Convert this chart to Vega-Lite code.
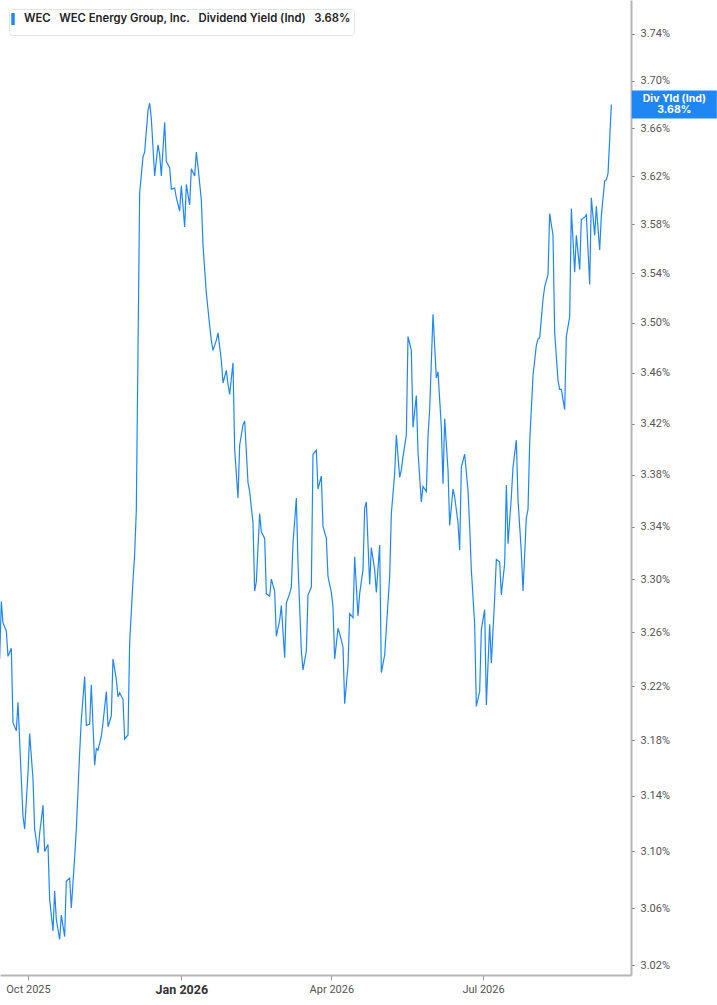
{
  "$schema": "https://vega.github.io/schema/vega-lite/v6.json",
  "width": 631,
  "height": 975,
  "autosize": {"type": "none"},
  "padding": {"left": 0, "top": 0, "right": 86, "bottom": 30},
  "background": "white",
  "config": {
    "view": {"stroke": null},
    "font": "Inter",
    "axis": {"grid": false}
  },
  "data": {
    "format": {"parse": {"date": "utc:'%Y-%m-%d'"}},
    "values": [
      {"date": "2025-09-14", "yield": 3.240}, {"date": "2025-09-15", "yield": 3.283}, {"date": "2025-09-16", "yield": 3.267},
      {"date": "2025-09-18", "yield": 3.261}, {"date": "2025-09-19", "yield": 3.242}, {"date": "2025-09-21", "yield": 3.248},
      {"date": "2025-09-22", "yield": 3.193}, {"date": "2025-09-24", "yield": 3.187}, {"date": "2025-09-25", "yield": 3.208},
      {"date": "2025-09-27", "yield": 3.152}, {"date": "2025-09-28", "yield": 3.125}, {"date": "2025-09-29", "yield": 3.116},
      {"date": "2025-10-01", "yield": 3.156}, {"date": "2025-10-02", "yield": 3.185}, {"date": "2025-10-04", "yield": 3.152},
      {"date": "2025-10-05", "yield": 3.116}, {"date": "2025-10-07", "yield": 3.099}, {"date": "2025-10-08", "yield": 3.113},
      {"date": "2025-10-10", "yield": 3.133}, {"date": "2025-10-11", "yield": 3.100}, {"date": "2025-10-13", "yield": 3.105},
      {"date": "2025-10-14", "yield": 3.066}, {"date": "2025-10-16", "yield": 3.044}, {"date": "2025-10-17", "yield": 3.072},
      {"date": "2025-10-18", "yield": 3.052}, {"date": "2025-10-20", "yield": 3.038}, {"date": "2025-10-21", "yield": 3.055},
      {"date": "2025-10-23", "yield": 3.040}, {"date": "2025-10-24", "yield": 3.079}, {"date": "2025-10-26", "yield": 3.081},
      {"date": "2025-10-27", "yield": 3.060}, {"date": "2025-10-29", "yield": 3.096}, {"date": "2025-10-30", "yield": 3.116},
      {"date": "2025-11-01", "yield": 3.171}, {"date": "2025-11-02", "yield": 3.195}, {"date": "2025-11-04", "yield": 3.227},
      {"date": "2025-11-05", "yield": 3.191}, {"date": "2025-11-07", "yield": 3.192}, {"date": "2025-11-08", "yield": 3.221},
      {"date": "2025-11-10", "yield": 3.162}, {"date": "2025-11-11", "yield": 3.174}, {"date": "2025-11-12", "yield": 3.173},
      {"date": "2025-11-14", "yield": 3.183}, {"date": "2025-11-15", "yield": 3.193}, {"date": "2025-11-17", "yield": 3.216},
      {"date": "2025-11-18", "yield": 3.190}, {"date": "2025-11-20", "yield": 3.198}, {"date": "2025-11-21", "yield": 3.240},
      {"date": "2025-11-23", "yield": 3.225}, {"date": "2025-11-24", "yield": 3.212}, {"date": "2025-11-25", "yield": 3.215},
      {"date": "2025-11-27", "yield": 3.210}, {"date": "2025-11-28", "yield": 3.181}, {"date": "2025-11-30", "yield": 3.184},
      {"date": "2025-12-01", "yield": 3.252}, {"date": "2025-12-03", "yield": 3.299}, {"date": "2025-12-04", "yield": 3.319},
      {"date": "2025-12-05", "yield": 3.353}, {"date": "2025-12-07", "yield": 3.606}, {"date": "2025-12-09", "yield": 3.636},
      {"date": "2025-12-10", "yield": 3.640}, {"date": "2025-12-12", "yield": 3.675}, {"date": "2025-12-13", "yield": 3.681},
      {"date": "2025-12-14", "yield": 3.668}, {"date": "2025-12-16", "yield": 3.620}, {"date": "2025-12-18", "yield": 3.646},
      {"date": "2025-12-19", "yield": 3.638}, {"date": "2025-12-20", "yield": 3.620}, {"date": "2025-12-22", "yield": 3.665},
      {"date": "2025-12-23", "yield": 3.632}, {"date": "2025-12-25", "yield": 3.627}, {"date": "2025-12-26", "yield": 3.609},
      {"date": "2025-12-28", "yield": 3.610}, {"date": "2025-12-29", "yield": 3.602}, {"date": "2025-12-31", "yield": 3.591},
      {"date": "2026-01-01", "yield": 3.612}, {"date": "2026-01-03", "yield": 3.578}, {"date": "2026-01-04", "yield": 3.613},
      {"date": "2026-01-06", "yield": 3.596}, {"date": "2026-01-07", "yield": 3.626}, {"date": "2026-01-09", "yield": 3.620},
      {"date": "2026-01-10", "yield": 3.640}, {"date": "2026-01-11", "yield": 3.628}, {"date": "2026-01-13", "yield": 3.600},
      {"date": "2026-01-14", "yield": 3.563}, {"date": "2026-01-16", "yield": 3.524}, {"date": "2026-01-17", "yield": 3.511},
      {"date": "2026-01-18", "yield": 3.498}, {"date": "2026-01-19", "yield": 3.486}, {"date": "2026-01-20", "yield": 3.478},
      {"date": "2026-01-22", "yield": 3.486}, {"date": "2026-01-23", "yield": 3.492}, {"date": "2026-01-25", "yield": 3.470},
      {"date": "2026-01-26", "yield": 3.452}, {"date": "2026-01-28", "yield": 3.462}, {"date": "2026-01-29", "yield": 3.451},
      {"date": "2026-01-30", "yield": 3.443}, {"date": "2026-02-01", "yield": 3.468}, {"date": "2026-02-02", "yield": 3.400},
      {"date": "2026-02-04", "yield": 3.362}, {"date": "2026-02-05", "yield": 3.403}, {"date": "2026-02-07", "yield": 3.419},
      {"date": "2026-02-08", "yield": 3.422}, {"date": "2026-02-10", "yield": 3.374}, {"date": "2026-02-11", "yield": 3.367},
      {"date": "2026-02-13", "yield": 3.343}, {"date": "2026-02-14", "yield": 3.291}, {"date": "2026-02-15", "yield": 3.298},
      {"date": "2026-02-17", "yield": 3.350}, {"date": "2026-02-18", "yield": 3.336}, {"date": "2026-02-20", "yield": 3.331},
      {"date": "2026-02-21", "yield": 3.289}, {"date": "2026-02-23", "yield": 3.287}, {"date": "2026-02-24", "yield": 3.300},
      {"date": "2026-02-26", "yield": 3.291}, {"date": "2026-02-27", "yield": 3.257}, {"date": "2026-03-01", "yield": 3.269},
      {"date": "2026-03-02", "yield": 3.280}, {"date": "2026-03-04", "yield": 3.241}, {"date": "2026-03-05", "yield": 3.282},
      {"date": "2026-03-07", "yield": 3.289}, {"date": "2026-03-08", "yield": 3.294}, {"date": "2026-03-09", "yield": 3.327},
      {"date": "2026-03-11", "yield": 3.362}, {"date": "2026-03-12", "yield": 3.312}, {"date": "2026-03-14", "yield": 3.246},
      {"date": "2026-03-15", "yield": 3.232}, {"date": "2026-03-17", "yield": 3.246}, {"date": "2026-03-18", "yield": 3.288},
      {"date": "2026-03-20", "yield": 3.294}, {"date": "2026-03-21", "yield": 3.396}, {"date": "2026-03-23", "yield": 3.399},
      {"date": "2026-03-24", "yield": 3.369}, {"date": "2026-03-26", "yield": 3.379}, {"date": "2026-03-27", "yield": 3.340},
      {"date": "2026-03-29", "yield": 3.331}, {"date": "2026-03-30", "yield": 3.302}, {"date": "2026-04-01", "yield": 3.290},
      {"date": "2026-04-02", "yield": 3.279}, {"date": "2026-04-03", "yield": 3.240}, {"date": "2026-04-05", "yield": 3.263},
      {"date": "2026-04-06", "yield": 3.259}, {"date": "2026-04-08", "yield": 3.249}, {"date": "2026-04-09", "yield": 3.207},
      {"date": "2026-04-11", "yield": 3.235}, {"date": "2026-04-12", "yield": 3.274}, {"date": "2026-04-14", "yield": 3.271},
      {"date": "2026-04-15", "yield": 3.317}, {"date": "2026-04-17", "yield": 3.272}, {"date": "2026-04-18", "yield": 3.289},
      {"date": "2026-04-20", "yield": 3.307}, {"date": "2026-04-21", "yield": 3.354}, {"date": "2026-04-22", "yield": 3.359},
      {"date": "2026-04-24", "yield": 3.296}, {"date": "2026-04-25", "yield": 3.324}, {"date": "2026-04-27", "yield": 3.307},
      {"date": "2026-04-28", "yield": 3.290}, {"date": "2026-04-30", "yield": 3.326}, {"date": "2026-05-01", "yield": 3.230},
      {"date": "2026-05-03", "yield": 3.243}, {"date": "2026-05-04", "yield": 3.263}, {"date": "2026-05-06", "yield": 3.302},
      {"date": "2026-05-07", "yield": 3.350}, {"date": "2026-05-09", "yield": 3.381}, {"date": "2026-05-10", "yield": 3.411},
      {"date": "2026-05-12", "yield": 3.378}, {"date": "2026-05-13", "yield": 3.384}, {"date": "2026-05-14", "yield": 3.394},
      {"date": "2026-05-16", "yield": 3.411}, {"date": "2026-05-17", "yield": 3.489}, {"date": "2026-05-19", "yield": 3.478},
      {"date": "2026-05-20", "yield": 3.417}, {"date": "2026-05-22", "yield": 3.442}, {"date": "2026-05-23", "yield": 3.398},
      {"date": "2026-05-25", "yield": 3.359}, {"date": "2026-05-26", "yield": 3.371}, {"date": "2026-05-28", "yield": 3.367},
      {"date": "2026-05-29", "yield": 3.410}, {"date": "2026-05-30", "yield": 3.431}, {"date": "2026-06-01", "yield": 3.507},
      {"date": "2026-06-03", "yield": 3.456}, {"date": "2026-06-04", "yield": 3.461}, {"date": "2026-06-06", "yield": 3.417},
      {"date": "2026-06-07", "yield": 3.373}, {"date": "2026-06-08", "yield": 3.424}, {"date": "2026-06-10", "yield": 3.384},
      {"date": "2026-06-11", "yield": 3.341}, {"date": "2026-06-13", "yield": 3.369}, {"date": "2026-06-14", "yield": 3.363},
      {"date": "2026-06-16", "yield": 3.343}, {"date": "2026-06-17", "yield": 3.322}, {"date": "2026-06-18", "yield": 3.386},
      {"date": "2026-06-20", "yield": 3.396}, {"date": "2026-06-22", "yield": 3.368}, {"date": "2026-06-23", "yield": 3.340},
      {"date": "2026-06-24", "yield": 3.307}, {"date": "2026-06-26", "yield": 3.266}, {"date": "2026-06-27", "yield": 3.205},
      {"date": "2026-06-29", "yield": 3.216}, {"date": "2026-06-30", "yield": 3.262}, {"date": "2026-07-02", "yield": 3.277},
      {"date": "2026-07-03", "yield": 3.206}, {"date": "2026-07-05", "yield": 3.266}, {"date": "2026-07-06", "yield": 3.237},
      {"date": "2026-07-08", "yield": 3.286}, {"date": "2026-07-09", "yield": 3.315}, {"date": "2026-07-11", "yield": 3.313},
      {"date": "2026-07-12", "yield": 3.288}, {"date": "2026-07-14", "yield": 3.312}, {"date": "2026-07-15", "yield": 3.372},
      {"date": "2026-07-16", "yield": 3.327}, {"date": "2026-07-18", "yield": 3.363}, {"date": "2026-07-19", "yield": 3.386},
      {"date": "2026-07-21", "yield": 3.407}, {"date": "2026-07-22", "yield": 3.361}, {"date": "2026-07-24", "yield": 3.320},
      {"date": "2026-07-25", "yield": 3.291}, {"date": "2026-07-27", "yield": 3.347}, {"date": "2026-07-28", "yield": 3.353},
      {"date": "2026-07-29", "yield": 3.405}, {"date": "2026-07-31", "yield": 3.458}, {"date": "2026-08-02", "yield": 3.482},
      {"date": "2026-08-03", "yield": 3.487}, {"date": "2026-08-04", "yield": 3.488}, {"date": "2026-08-06", "yield": 3.519},
      {"date": "2026-08-07", "yield": 3.529}, {"date": "2026-08-09", "yield": 3.539}, {"date": "2026-08-10", "yield": 3.589},
      {"date": "2026-08-12", "yield": 3.571}, {"date": "2026-08-13", "yield": 3.492}, {"date": "2026-08-15", "yield": 3.454},
      {"date": "2026-08-16", "yield": 3.447}, {"date": "2026-08-17", "yield": 3.447}, {"date": "2026-08-19", "yield": 3.431},
      {"date": "2026-08-20", "yield": 3.489}, {"date": "2026-08-22", "yield": 3.505}, {"date": "2026-08-23", "yield": 3.593},
      {"date": "2026-08-25", "yield": 3.541}, {"date": "2026-08-26", "yield": 3.571}, {"date": "2026-08-28", "yield": 3.543},
      {"date": "2026-08-29", "yield": 3.584}, {"date": "2026-08-31", "yield": 3.586}, {"date": "2026-09-01", "yield": 3.588},
      {"date": "2026-09-03", "yield": 3.531}, {"date": "2026-09-04", "yield": 3.602}, {"date": "2026-09-06", "yield": 3.571},
      {"date": "2026-09-07", "yield": 3.595}, {"date": "2026-09-09", "yield": 3.559}, {"date": "2026-09-10", "yield": 3.587},
      {"date": "2026-09-12", "yield": 3.616}, {"date": "2026-09-13", "yield": 3.617}, {"date": "2026-09-14", "yield": 3.622},
      {"date": "2026-09-16", "yield": 3.680}
    ]
  },
  "encoding": {
    "x": {
      "field": "date",
      "type": "temporal",
      "scale": {
        "type": "utc",
        "domain": [
          {"year": 2025, "month": 9, "date": 14, "hours": 5, "utc": true},
          {"year": 2026, "month": 9, "date": 27, "hours": 19, "utc": true}
        ]
      },
      "axis": {
        "title": null,
        "orient": "bottom",
        "values": [
          {"year": 2025, "month": 10, "date": 1, "utc": true},
          {"year": 2026, "month": 1, "date": 1, "utc": true},
          {"year": 2026, "month": 4, "date": 1, "utc": true},
          {"year": 2026, "month": 7, "date": 1, "utc": true}
        ],
        "labelExpr": "utcFormat(datum.value, '%b %Y')",
        "domainColor": "#b5b5b5",
        "domainWidth": 2,
        "tickColor": "#9a9a9a",
        "tickSize": 5,
        "labelPadding": 3,
        "labelFont": "Roboto",
        "labelColor": {"condition": {"test": "utcmonth(datum.value) == 0", "value": "#333333"}, "value": "#555555"},
        "labelFontSize": {"condition": {"test": "utcmonth(datum.value) == 0", "value": 12.5}, "value": 11},
        "labelFontWeight": {"condition": {"test": "utcmonth(datum.value) == 0", "value": "bold"}, "value": "normal"}
      }
    },
    "y": {
      "field": "yield",
      "type": "quantitative",
      "scale": {"type": "log", "domain": [3.0133, 3.7693], "nice": false, "zero": false},
      "axis": {
        "title": null,
        "orient": "right",
        "values": [3.02, 3.06, 3.10, 3.14, 3.18, 3.22, 3.26, 3.30, 3.34, 3.38, 3.42, 3.46, 3.50, 3.54, 3.58, 3.62, 3.66, 3.70, 3.74],
        "labelExpr": "format(datum.value, '.2f') + '%'",
        "domainColor": "#b5b5b5",
        "domainWidth": 2,
        "tickColor": "#777777",
        "tickSize": 3,
        "labelPadding": 6,
        "labelFont": "Roboto",
        "labelFontSize": 11,
        "labelColor": "#555555"
      }
    }
  },
  "layer": [
    {
      "mark": {"type": "line", "strokeWidth": 1.2, "clip": true, "interpolate": "linear"},
      "encoding": {
        "color": {
          "datum": "WEC\u00a0\u00a0\u00a0WEC Energy Group, Inc.\u00a0\u00a0\u00a0Dividend Yield (Ind)\u00a0\u00a0\u00a03.68%",
          "scale": {"range": ["#1f87f4"]},
          "legend": {
            "orient": "top-left",
            "offset": 9,
            "title": null,
            "labelFont": "Inter",
            "labelFontSize": 11.3,
            "labelFontWeight": 600,
            "labelColor": "#222222",
            "labelOffset": 4,
            "labelLimit": 400,
            "symbolType": "M0,-1.2V1.2",
            "symbolSize": 100,
            "symbolStrokeWidth": 3.5,
            "symbolOffset": -6,
            "strokeColor": "#e4e4e4",
            "fillColor": "#ffffff",
            "padding": 3,
            "cornerRadius": 3
          }
        }
      }
    },
    {
      "transform": [
        {"joinaggregate": [{"op": "max", "field": "date", "as": "lastDate"}]},
        {"filter": "time(datum.date) == time(datum.lastDate)"}
      ],
      "mark": {
        "type": "point",
        "shape": "M-1,-0.33H1V0.33H-1Z",
        "size": 7225,
        "filled": true,
        "opacity": 1,
        "color": "#1f87f4",
        "xOffset": 63,
        "clip": false
      }
    },
    {
      "transform": [
        {"joinaggregate": [{"op": "max", "field": "date", "as": "lastDate"}]},
        {"filter": "time(datum.date) == time(datum.lastDate)"}
      ],
      "mark": {
        "type": "text",
        "color": "white",
        "font": "Inter",
        "fontSize": 10.5,
        "fontWeight": "bold",
        "lineHeight": 11.5,
        "align": "center",
        "baseline": "middle",
        "dy": -5.5,
        "xOffset": 63,
        "clip": false
      },
      "encoding": {
        "text": {"value": ["Div Yld (Ind)", "3.68%"]}
      }
    }
  ]
}
